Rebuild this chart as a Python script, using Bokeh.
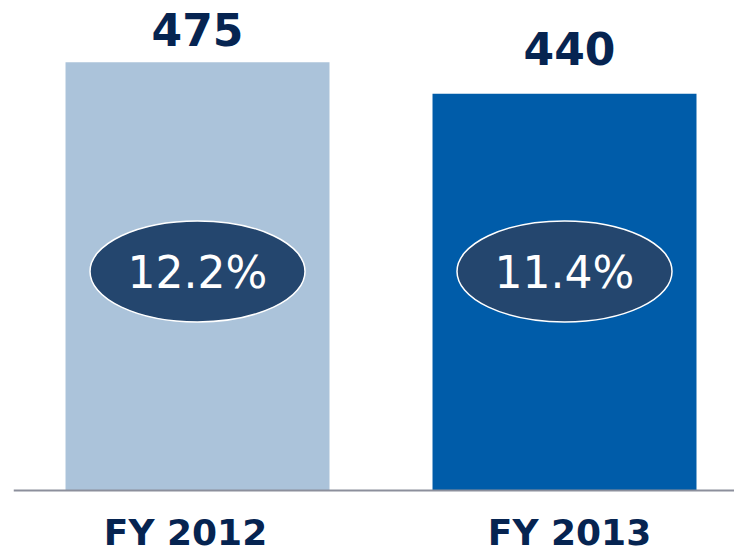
from bokeh.plotting import figure
from bokeh.models import ColumnDataSource, Range1d, Span
from bokeh.core.properties import value
from bokeh.embed import file_html
from bokeh.resources import INLINE

# ---- data ----
categories = ["FY 2012", "FY 2013"]
values = [475, 440]
margins = ["12.2%", "11.4%"]
bar_colors = ["#abc3da", "#005ca9"]

# ---- styling / layout constants ----
NAVY = "#062451"
FONT = value("DejaVu Sans")
BADGE_LEVEL = 243          # vertical level of the oval badges (axis units)
value_label_dy = [-33, -45]
value_label_dx = [0, 5]
cat_label_dx = [-12, 5]

xs = list(range(len(categories)))
src = ColumnDataSource(dict(
    x=xs, cat=categories, val=values, pct=margins, color=bar_colors,
    badge=[BADGE_LEVEL] * len(categories),
))

p = figure(width=734, height=554, output_backend="svg", toolbar_location=None,
           x_range=Range1d(-0.5014, 1.4632), y_range=Range1d(-71.0, 543.5),
           min_border_left=13, min_border_right=0, min_border_top=0, min_border_bottom=0)
p.axis.visible = False
p.grid.visible = False
p.outline_line_color = None
p.background_fill_color = "white"
p.border_fill_color = "white"

p.vbar(x="x", top="val", bottom=0, width=0.7193, fill_color="color", line_color=None, source=src)

p.add_layout(Span(location=0, dimension="width", line_color="#8c8f9c", line_width=2))

p.ellipse(x="x", y="badge", width=215, height=101, width_units="screen", height_units="screen",
          fill_color="#24466e", line_color="white", line_width=1.5, source=src)
p.text(x="x", y="badge", text="pct", text_align="center", text_baseline="middle",
       y_offset=1, text_color="white", text_font=FONT, text_font_size="44px", source=src)

for i in xs:
    sub = ColumnDataSource(dict(x=[i], val=[values[i]], cat=[categories[i]], zero=[0]))
    p.text(x="x", y="val", text="val", text_align="center", text_baseline="alphabetic",
           x_offset=value_label_dx[i], y_offset=value_label_dy[i],
           text_color=NAVY, text_font=FONT, text_font_style="bold", text_font_size="44px",
           source=sub)
    p.text(x="x", y="zero", text="cat", text_align="center", text_baseline="alphabetic",
           x_offset=cat_label_dx[i], y_offset=42,
           text_color=NAVY, text_font=FONT, text_font_style="bold", text_font_size="36px",
           source=sub)

open("out.html", "w").write(file_html(p, INLINE))
